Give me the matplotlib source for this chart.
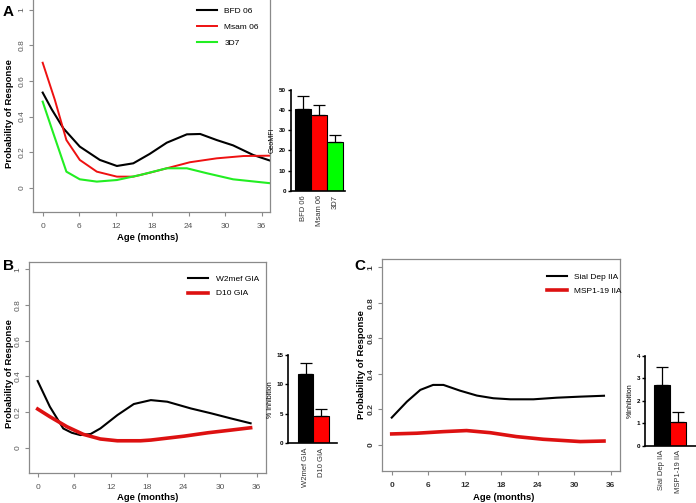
import matplotlib
matplotlib.use("Agg")
import matplotlib.pyplot as plt

plt.rcParams['font.family'] = ['Liberation Sans', 'DejaVu Sans']

# ---------------- data ----------------
# Panel A line curves
a_bfd_x = [0, 1.5, 3.4, 6.1, 9.4, 12.2, 14.9, 17.6, 20.4, 23.7, 25.9, 28.6, 31.3, 34.6, 37.4]
a_bfd_y = [0.535, 0.44, 0.334, 0.231, 0.156, 0.122, 0.137, 0.19, 0.253, 0.300, 0.302, 0.268, 0.238, 0.184, 0.152]
a_msam_x = [0, 2.0, 3.9, 6.1, 8.9, 12.2, 14.9, 17.6, 20.4, 24.2, 28.6, 33.0, 37.4]
a_msam_y = [0.703, 0.494, 0.268, 0.156, 0.09, 0.062, 0.062, 0.084, 0.109, 0.143, 0.165, 0.178, 0.18]
a_3d7_x = [0, 1.75, 3.9, 6.1, 8.9, 12.2, 16.0, 20.4, 23.7, 27.0, 31.3, 37.4]
a_3d7_y = [0.484, 0.306, 0.09, 0.047, 0.034, 0.043, 0.071, 0.109, 0.109, 0.081, 0.047, 0.025]

# Panel A bars
a_bar_labels = ["BFD 06", "Msam 06", "3D7"]
a_bar_vals = [40.4, 37.6, 24.3]
a_bar_err = [6.8, 4.9, 3.4]

# Panel B line curves
b_w2_x = [0, 2, 4.2, 5.6, 7, 8.7, 10.3, 13.1, 15.8, 18.6, 21.3, 25.2, 28.5, 31.8, 35]
b_w2_y = [0.374, 0.23, 0.108, 0.084, 0.071, 0.077, 0.108, 0.183, 0.245, 0.267, 0.258, 0.22, 0.193, 0.164, 0.137]
b_d10_x = [0, 2, 4.8, 7.5, 10.3, 13.1, 16.9, 18.6, 24.1, 28, 31.8, 35]
b_d10_y = [0.217, 0.174, 0.118, 0.075, 0.049, 0.039, 0.039, 0.043, 0.065, 0.084, 0.099, 0.112]

b_bar_labels = ["W2mef GIA", "D10 GIA"]
b_bar_vals = [11.8, 4.7]
b_bar_err = [1.8, 1.2]

# Panel C line curves
c_sial_x = [0, 2.5, 4.7, 6.8, 8.5, 11.2, 14, 16.7, 19.5, 23.3, 27.1, 31, 34.9]
c_sial_y = [0.154, 0.244, 0.31, 0.338, 0.338, 0.306, 0.278, 0.263, 0.257, 0.257, 0.266, 0.272, 0.277]
c_msp_x = [0, 4.1, 8.5, 12.3, 16.2, 20.5, 24.9, 31, 34.9]
c_msp_y = [0.062, 0.066, 0.075, 0.081, 0.069, 0.047, 0.032, 0.019, 0.022]

c_bar_labels = ["Sial Dep IIA", "MSP1-19 IIA"]
c_bar_vals = [2.71, 1.07]
c_bar_err = [0.81, 0.45]

age_ticks = [0, 6, 12, 18, 24, 30, 36]
prob_ticks = [0, 0.2, 0.4, 0.6, 0.8, 1.0]
prob_tick_labels = ["0", "0.2", "0.4", "0.6", "0.8", "1"]

W, H = 696, 503
fig = plt.figure(figsize=(W / 100, H / 100), dpi=100)


def px_axes(left, top, right, bottom):
    return fig.add_axes([left / W, 1 - bottom / H, (right - left) / W, (bottom - top) / H])


GRAY = "#8a8a8a"
TXT = "#555555"


def line_panel(ax, xlim, ylim, bold_ticks=False, top_spine=True):
    ax.set_xlim(*xlim)
    ax.set_ylim(*ylim)
    for s in ["left", "bottom", "right", "top"]:
        ax.spines[s].set_color(GRAY)
        ax.spines[s].set_linewidth(0.9)
    ax.spines["top"].set_visible(top_spine)
    ax.set_xticks(age_ticks)
    ax.set_yticks(prob_ticks)
    ax.set_yticklabels(prob_tick_labels, rotation=90, va="center")
    ax.tick_params(axis="both", direction="out", length=3, width=0.8, color=GRAY,
                   labelsize=6, labelcolor=TXT)
    ax.tick_params(axis="x", pad=5)
    ax.tick_params(axis="y", pad=2.5)
    if bold_ticks:
        for t in ax.get_xticklabels() + ax.get_yticklabels():
            t.set_fontweight("bold")
            t.set_color("#333333")


def bar_panel(ax, labels, vals, errs, colors, xlim, ylim, yticks, ylabel):
    xs = list(range(len(vals)))
    ax.bar(xs, vals, width=1.0, color=colors, edgecolor="black", linewidth=0.8)
    ax.errorbar(xs, vals, yerr=[[0] * len(errs), errs], fmt="none", ecolor="black",
                elinewidth=0.9, capsize=4, capthick=0.9)
    ax.set_xlim(*xlim)
    ax.set_ylim(*ylim)
    ax.set_yticks(yticks)
    ax.set_xticks(xs)
    ax.set_xticklabels(labels, rotation=90, va="top")
    ax.spines["top"].set_visible(False)
    ax.spines["right"].set_visible(False)
    ax.spines["left"].set_linewidth(1.2)
    ax.spines["bottom"].set_linewidth(1.2)
    ax.tick_params(axis="y", direction="out", length=2.5, width=1, labelsize=4.5, pad=1)
    ax.tick_params(axis="x", length=0, labelsize=5.5, pad=3, labelcolor="#333333")
    for t in ax.get_yticklabels():
        t.set_fontweight("bold")
    ax.set_ylabel(ylabel, fontsize=5, labelpad=2)


# ---------- Panel A ----------
axA = px_axes(33, 0, 270, 212)
axA.plot(a_bfd_x, a_bfd_y, color="black", lw=1.5, label="BFD 06")
axA.plot(a_msam_x, a_msam_y, color="#ee1111", lw=1.4, label="Msam 06")
axA.plot(a_3d7_x, a_3d7_y, color="#22ee22", lw=1.5, label="3D7")
line_panel(axA, (-1.59, 37.37), (-0.137, 1.056), top_spine=False)
axA.legend(loc="upper left", bbox_to_anchor=(0.66, 1.0), frameon=False, fontsize=6,
           handlelength=2.4, labelspacing=0.95, handletextpad=0.9)

axAb = px_axes(290.7, 90, 345, 190.7)
bar_panel(axAb, a_bar_labels, a_bar_vals, a_bar_err, ["black", "#ff0000", "#00ff00"],
          (-0.77, 2.62), (0, 50), [0, 10, 20, 30, 40, 50], "GeoMFI")

# ---------- Panel B ----------
axB = px_axes(29.3, 261.7, 265.7, 472.7)
axB.plot(b_w2_x, b_w2_y, color="black", lw=1.5, label="W2mef GIA")
axB.plot(b_d10_x, b_d10_y, color="#dd1111", lw=2.6, label="D10 GIA")
line_panel(axB, (-1.38, 37.48), (-0.14, 1.043))
axB.legend(loc="upper left", bbox_to_anchor=(0.64, 0.97), frameon=False, fontsize=6,
           handlelength=2.4, labelspacing=0.75, handletextpad=0.9)

axBb = px_axes(288.3, 355, 336.7, 443.3)
bar_panel(axBb, b_bar_labels, b_bar_vals, b_bar_err, ["black", "#ff0000"],
          (-1.1, 1.99), (0, 15), [0, 5, 10, 15], "% Inhibition")

# ---------- Panel C ----------
axC = px_axes(382.3, 259, 620, 470.7)
axC.plot(c_sial_x, c_sial_y, color="black", lw=1.5, label="Sial Dep IIA")
axC.plot(c_msp_x, c_msp_y, color="#dd1111", lw=2.6, label="MSP1-19 IIA")
line_panel(axC, (-1.55, 37.53), (-0.145, 1.047), bold_ticks=True)
axC.legend(loc="upper left", bbox_to_anchor=(0.66, 0.97), frameon=False, fontsize=6,
           handlelength=2.4, labelspacing=0.75, handletextpad=0.9)

axCb = px_axes(645, 356, 695.7, 445.7)
bar_panel(axCb, c_bar_labels, c_bar_vals, c_bar_err, ["black", "#ff0000"],
          (-1.04, 2.07), (0, 4), [0, 1, 2, 3, 4], "%Inhibition")

# ---------- labels ----------
def ftext(x, y, s, **kw):
    fig.text(x / W, 1 - y / H, s, **kw)

ftext(3, 12, "A", fontsize=11, fontweight="bold", va="center", ha="left")
ftext(3, 266, "B", fontsize=11, fontweight="bold", va="center", ha="left")
ftext(354, 266, "C", fontsize=11, fontweight="bold", va="center", ha="left")

ylab_kw = dict(fontsize=6.8, fontweight="bold", rotation=90, va="center", ha="center")
ftext(10, 114, "Probability of Response", **ylab_kw)
ftext(10, 374, "Probability of Response", **ylab_kw)
ftext(361, 365, "Probability of Response", **ylab_kw)

xlab_kw = dict(fontsize=6.8, fontweight="bold", va="center", ha="center")
ftext(148, 238, "Age (months)", **xlab_kw)
ftext(148, 497, "Age (months)", **xlab_kw)
ftext(504, 497, "Age (months)", **xlab_kw)

fig.savefig("out.png", dpi=100)
